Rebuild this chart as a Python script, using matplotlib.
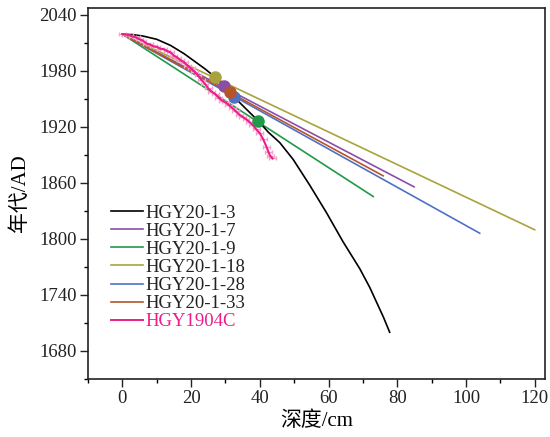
import numpy as np
import matplotlib
matplotlib.use('Agg')
import matplotlib.pyplot as plt
from matplotlib.ticker import MultipleLocator

plt.rcParams['font.family'] = ['Liberation Serif', 'Noto Sans CJK SC']

# HGY20-1-3 age model (depth cm, year AD)
d_3 = [0, 3, 6, 10, 14, 18, 21, 24, 27, 30, 33, 36, 39.6, 42.5, 45.8, 49.7, 54.6, 59.4, 64.2, 69.1, 72, 74, 76, 77.8]
y_3 = [2019, 2018.5, 2017, 2013.5, 2007, 1998, 1990, 1982, 1973, 1962, 1950, 1939, 1926, 1914, 1903, 1885, 1857, 1828, 1797, 1768, 1748, 1732, 1716, 1700]

# linear sedimentation rate cores: (top, end)
names = ['HGY20-1-7', 'HGY20-1-9', 'HGY20-1-18', 'HGY20-1-28', 'HGY20-1-33']
end_depth = [84.9, 73.0, 120.0, 104.0, 75.9]
end_year = [1855.6, 1845.3, 1809.7, 1806.0, 1867.4]
top_year = 2019
colors = ['#8b4ea6', '#1f9a48', '#a9a33e', '#4d72c4', '#b4552c']

# 1963 peak markers
mk_depth = [29.7, 39.6, 27.0, 32.5, 31.4]
mk_year = [1963.0, 1925.8, 1973.0, 1952.0, 1957.0]

# HGY1904C
d_p = [0, 1, 2, 3, 4, 5, 6, 7, 8, 9, 10, 11, 12, 13, 14, 15, 16, 17, 18, 19, 20, 21, 22,
       23, 24, 25, 26, 27, 28, 29, 30, 31, 32, 33, 34, 35, 36, 37, 38, 39, 40, 41, 42, 42.5, 43, 43.7]
y_p = [2019, 2018.5, 2018, 2016.5, 2015.5, 2013.5, 2012, 2009, 2008, 2006, 2005.5, 2003.5, 2003,
       2001, 1999.5, 1996, 1994, 1991, 1989, 1985, 1982.5, 1979, 1975, 1970, 1966, 1961, 1957.5,
       1955, 1951, 1948, 1946, 1943, 1940, 1936.5, 1933, 1930.5, 1928, 1925, 1921.5, 1917, 1913,
       1906.5, 1898, 1893, 1889, 1886]

fig = plt.figure(figsize=(5.5, 4.37), dpi=100)
ax = fig.add_axes([88/550, 1-379/437, 457/550, 371/437])

ax.plot(d_3, y_3, color='black', lw=1.2, label='HGY20-1-3', zorder=3)
for n in range(len(names)):
    ax.plot([0, end_depth[n]], [top_year, end_year[n]], color=colors[n], lw=1.2, label=names[n], zorder=2)

ax.errorbar(d_p, y_p, xerr=1.0, color='#ec1c8c', lw=1.5, ecolor='#f5a3c8', elinewidth=1.0,
            capsize=1.5, zorder=4)
ax.plot([], [], color='#ec1c8c', lw=1.4, label='HGY1904C')

for n in range(len(names)):
    ax.plot(mk_depth[n], mk_year[n], 'o', color=colors[n], ms=8, zorder=5)

ax.set_xlim(-10, 123)
ax.set_ylim(1650, 2047)
ax.xaxis.set_major_locator(MultipleLocator(20))
ax.xaxis.set_minor_locator(MultipleLocator(10))
ax.yaxis.set_major_locator(MultipleLocator(60))
ax.yaxis.set_minor_locator(MultipleLocator(30))
ax.tick_params(which='major', direction='out', length=6, width=1, labelsize=13.5, colors='#222222', pad=2)
ax.tick_params(which='minor', direction='out', length=3, width=1)
for s in ax.spines.values():
    s.set_linewidth(1.2)
    s.set_color('#222222')

ax.set_xlabel('深度/cm', fontsize=15, labelpad=3)
ax.set_ylabel('年代/AD', fontsize=15, labelpad=7)

leg = ax.legend(loc='upper left', bbox_to_anchor=(0.035, 0.49), frameon=False, fontsize=13.5,
                handlelength=1.7, handletextpad=0.1, labelspacing=0.05, borderaxespad=0)
leg.get_texts()[-1].set_color('#ec1c8c')
for t in leg.get_texts()[:-1]:
    t.set_color('#222222')

fig.savefig('out.png', dpi=100)
